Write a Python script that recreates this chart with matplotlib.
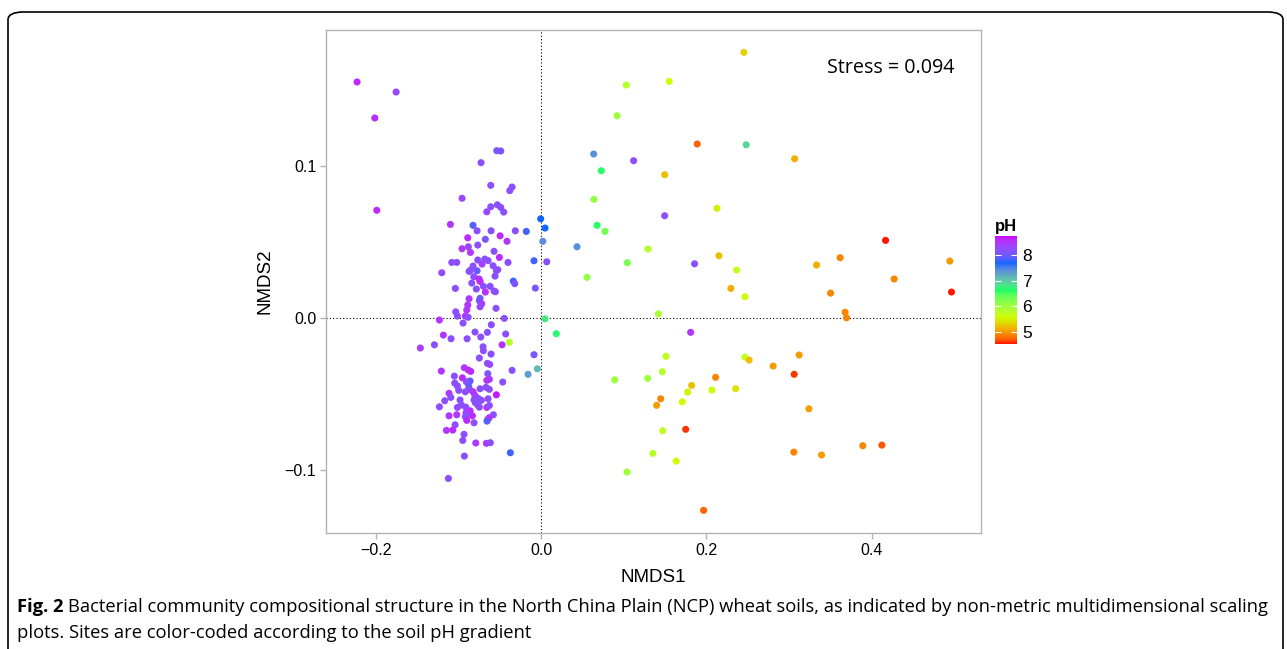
import numpy as np
import matplotlib
matplotlib.use("Agg")
import matplotlib.pyplot as plt
from matplotlib.colors import ListedColormap
from matplotlib.patches import FancyBboxPatch

# --- NMDS site scores (NMDS1, NMDS2, soil pH)
nmds1 = [
    -0.2224, -0.1752, -0.2010, -0.1986, -0.1096, -0.0535, -0.0487, -0.0725, -0.0608, -0.0350,
    -0.0378, -0.0955, -0.0528, -0.0608, -0.0487, -0.0656, -0.0451, -0.0822, -0.0773, -0.0604,
    -0.0311, -0.0178, -0.0004, 0.0048, 0.0021, -0.0886, -0.0495, -0.0411, -0.0673, -0.0955,
    -0.0879, -0.0765, -0.0854, -0.0568, -0.0504, -0.0680, -0.0765, -0.0640, -0.0085, 0.0069,
    -0.1079, -0.1019, -0.0713, -0.0399, -0.0822, -0.0854, -0.0870, -0.0773, -0.0580, -0.0523,
    -0.0540, -0.1200, -0.0556, -0.0813, -0.0749, -0.0737, -0.0837, -0.0335, -0.0318, -0.0616,
    -0.0697, -0.1036, -0.0782, -0.0568, -0.0552, -0.0673, -0.0069, -0.0870, -0.0737, -0.0746,
    -0.0717, -0.0737, -0.0886, -0.0898, -0.0544, -0.1031, -0.1011, -0.0915, -0.0882, -0.1229,
    -0.0444, 0.0048, -0.0943, -0.0601, -0.0798, -0.0649, -0.0427, 0.0185, -0.1181, -0.0729,
    -0.1088, -0.0894, -0.0383, -0.0471, -0.1289, -0.1459, -0.0701, -0.0697, -0.0604, -0.0085,
    -0.0746, -0.0649, -0.0620, -0.0045, -0.0927, -0.0879, -0.0850, -0.0350, -0.1205, -0.0157,
    -0.0644, -0.1048, -0.0951, -0.0858, -0.0903, -0.0625, -0.0656, -0.0463, -0.1043, -0.1011,
    -0.0995, -0.0874, -0.0866, -0.0737, -0.0665, -0.0625, -0.0915, -0.0822, -0.0801, -0.0540,
    -0.1112, -0.1091, -0.0640, -0.1164, -0.0979, -0.0810, -0.0761, -0.0721, -0.0794, -0.0765,
    -0.0746, -0.1229, -0.1011, -0.0963, -0.0910, -0.0656, -0.0625, -0.0858, -0.0906, -0.1112,
    -0.1019, -0.0830, -0.0898, -0.0915, -0.0576, -0.0628, -0.0644, -0.0898, -0.0653, -0.0810,
    -0.1039, -0.1144, -0.1067, -0.0931, -0.0946, -0.0789, -0.0661, -0.0613, -0.0371, -0.0927,
    -0.1120,
    0.2453, 0.1031, 0.1550, 0.0918, 0.1889, 0.2481, 0.3066, 0.0637, 0.1120, 0.0729,
    0.1495, 0.0640, 0.2127, 0.1495, 0.0677, 0.0773, 0.0435, 0.1293, 0.2151, 0.1043,
    0.1857, 0.2365, 0.0556, 0.2296, 0.2465, 0.1418, 0.1809, 0.1511, 0.2465, 0.2517,
    0.3121, 0.2807, 0.3061, 0.1466, 0.0891, 0.1289, 0.2111, 0.1821, 0.1773, 0.2066,
    0.2353, 0.1447, 0.1398, 0.1708, 0.3239, 0.1471, 0.1749, 0.3057, 0.3392, 0.1353,
    0.1635, 0.1039, 0.1966, 0.4166, 0.3617, 0.3332, 0.4943, 0.4270, 0.3501, 0.4963,
    0.3677, 0.3694, 0.3891, 0.4121,
]
nmds2 = [
    0.1553, 0.1487, 0.1316, 0.0709, 0.0616, 0.1101, 0.1099, 0.1022, 0.0873, 0.0862,
    0.0838, 0.0788, 0.0745, 0.0732, 0.0728, 0.0699, 0.0697, 0.0610, 0.0574, 0.0574,
    0.0574, 0.0570, 0.0653, 0.0592, 0.0505, 0.0528, 0.0541, 0.0505, 0.0518, 0.0456,
    0.0469, 0.0480, 0.0432, 0.0439, 0.0399, 0.0388, 0.0382, 0.0378, 0.0377, 0.0370,
    0.0366, 0.0366, 0.0355, 0.0366, 0.0342, 0.0314, 0.0307, 0.0311, 0.0344, 0.0318,
    0.0311, 0.0298, 0.0276, 0.0272, 0.0257, 0.0241, 0.0230, 0.0243, 0.0226, 0.0209,
    0.0209, 0.0195, 0.0191, 0.0178, 0.0173, 0.0171, 0.0197, 0.0127, 0.0130, 0.0114,
    0.0094, 0.0074, 0.0086, 0.0053, 0.0064, 0.0041, 0.0013, 0.0013, 0.0005, -0.0013,
    -0.0002, -0.0005, -0.0033, -0.0044, -0.0092, -0.0094, -0.0105, -0.0103, -0.0112, -0.0125,
    -0.0136, -0.0136, -0.0160, -0.0176, -0.0176, -0.0197, -0.0189, -0.0215, -0.0237, -0.0241,
    -0.0263, -0.0298, -0.0305, -0.0334, -0.0327, -0.0342, -0.0351, -0.0344, -0.0349, -0.0370,
    -0.0366, -0.0382, -0.0393, -0.0414, -0.0419, -0.0403, -0.0410, -0.0421, -0.0428, -0.0447,
    -0.0476, -0.0449, -0.0469, -0.0465, -0.0456, -0.0469, -0.0485, -0.0485, -0.0507, -0.0505,
    -0.0495, -0.0522, -0.0531, -0.0544, -0.0539, -0.0538, -0.0528, -0.0541, -0.0557, -0.0572,
    -0.0586, -0.0584, -0.0588, -0.0572, -0.0586, -0.0588, -0.0575, -0.0610, -0.0623, -0.0643,
    -0.0636, -0.0643, -0.0638, -0.0649, -0.0636, -0.0656, -0.0666, -0.0673, -0.0678, -0.0689,
    -0.0702, -0.0739, -0.0737, -0.0765, -0.0805, -0.0822, -0.0824, -0.0820, -0.0886, -0.0908,
    -0.1055,
    0.1748, 0.1533, 0.1557, 0.1331, 0.1145, 0.1140, 0.1048, 0.1079, 0.1035, 0.0969,
    0.0943, 0.0781, 0.0722, 0.0673, 0.0610, 0.0570, 0.0469, 0.0454, 0.0410, 0.0364,
    0.0357, 0.0316, 0.0268, 0.0195, 0.0140, 0.0028, -0.0094, -0.0252, -0.0257, -0.0276,
    -0.0243, -0.0316, -0.0370, -0.0353, -0.0406, -0.0397, -0.0390, -0.0443, -0.0487, -0.0474,
    -0.0465, -0.0531, -0.0574, -0.0551, -0.0597, -0.0741, -0.0732, -0.0882, -0.0901, -0.0890,
    -0.0941, -0.1013, -0.1265, 0.0511, 0.0397, 0.0349, 0.0375, 0.0257, 0.0164, 0.0171,
    0.0038, 0.0002, -0.0840, -0.0836,
]
ph = [
    8.6, 8.3, 8.6, 8.6, 8.5, 8.1, 8.1, 8.2, 8.2, 8.2,
    8.2, 8.3, 8.2, 8.2, 8.2, 8.3, 8.2, 7.9, 8.2, 8.2,
    8.2, 7.8, 7.7, 7.7, 7.4, 8.6, 8.6, 8.5, 8.1, 8.5,
    8.3, 8.2, 8.5, 8.2, 8.6, 8.2, 8.2, 8.2, 7.8, 8.2,
    8.2, 8.2, 8.4, 8.2, 8.2, 8.2, 8.2, 8.0, 8.2, 8.2,
    8.2, 8.3, 8.2, 8.2, 8.6, 8.6, 8.2, 7.8, 8.1, 8.2,
    8.2, 8.2, 8.2, 8.2, 8.2, 8.5, 8.1, 8.5, 8.0, 8.0,
    8.5, 8.3, 8.5, 8.5, 8.2, 8.2, 8.2, 8.5, 8.2, 8.5,
    8.2, 6.8, 8.2, 8.2, 8.2, 8.2, 8.2, 6.7, 8.5, 8.2,
    8.2, 8.2, 5.8, 8.5, 8.2, 8.4, 8.2, 8.2, 8.2, 8.1,
    8.2, 8.2, 8.3, 7.1, 8.5, 8.6, 8.6, 8.2, 8.5, 7.3,
    8.1, 8.2, 8.6, 7.9, 8.2, 8.5, 8.5, 8.2, 8.2, 8.2,
    8.2, 8.0, 8.1, 8.2, 8.2, 8.2, 8.2, 8.5, 8.5, 8.7,
    8.5, 8.2, 8.2, 8.2, 8.2, 8.2, 8.2, 8.2, 8.2, 8.2,
    8.2, 8.2, 8.3, 8.2, 8.2, 8.5, 8.2, 8.6, 8.5, 8.5,
    8.5, 8.6, 8.2, 8.2, 8.2, 8.5, 8.5, 8.6, 7.9, 8.2,
    8.2, 8.5, 8.6, 8.2, 8.2, 8.5, 8.5, 8.2, 7.8, 8.2,
    8.2,
    5.3, 5.8, 5.6, 6.0, 4.75, 6.9, 5.1, 7.4, 8.2, 6.6,
    5.2, 6.1, 5.5, 8.2, 6.6, 6.3, 7.4, 5.8, 5.2, 6.3,
    8.2, 5.7, 6.1, 5.1, 5.6, 5.9, 8.5, 5.7, 5.7, 5.2,
    5.0, 5.0, 4.6, 5.8, 6.0, 6.0, 4.9, 5.2, 5.5, 5.6,
    5.4, 4.9, 5.0, 5.6, 5.0, 5.7, 4.6, 4.9, 5.0, 5.8,
    5.6, 6.0, 4.75, 4.55, 4.9, 5.1, 5.0, 4.9, 4.9, 4.55,
    4.9, 4.9, 4.9, 4.7,
]
ph_ticks = [5, 6, 7, 8]
x_ticks = [-0.2, 0.0, 0.2, 0.4]
y_ticks = [-0.1, 0.0, 0.1]
stress = 0.094


# --- rainbow(5) gradient, interpolated in CIELAB like ggplot2
def to_lab(rgb):
    c = np.where(rgb <= 0.04045, rgb / 12.92, ((rgb + 0.055) / 1.055) ** 2.4)
    m = np.array([[0.4124, 0.3576, 0.1805], [0.2126, 0.7152, 0.0722], [0.0193, 0.1192, 0.9505]])
    xyz = c @ m.T / np.array([0.95047, 1.0, 1.08883])
    f = np.where(xyz > 0.008856, np.cbrt(xyz), 7.787 * xyz + 16 / 116)
    return np.stack([116 * f[:, 1] - 16, 500 * (f[:, 0] - f[:, 1]), 200 * (f[:, 1] - f[:, 2])], axis=1)


def from_lab(lab):
    fy = (lab[:, 0] + 16) / 116
    f = np.stack([fy + lab[:, 1] / 500, fy, fy - lab[:, 2] / 200], axis=1)
    xyz = np.where(f ** 3 > 0.008856, f ** 3, (f - 16 / 116) / 7.787) * np.array([0.95047, 1.0, 1.08883])
    m = np.array([[3.2406, -1.5372, -0.4986], [-0.9689, 1.8758, 0.0415], [0.0557, -0.2040, 1.0570]])
    c = np.clip(xyz @ m.T, 0, 1)
    return np.clip(np.where(c <= 0.0031308, 12.92 * c, 1.055 * c ** (1 / 2.4) - 0.055), 0, 1)


stops = np.array([[1, 0, 0], [0.8, 1, 0], [0, 1, 0.4], [0, 0.4, 1], [0.8, 0, 1]])
lab = to_lab(stops)
t = np.linspace(0, 1, 256)
pos = np.linspace(0, 1, len(stops))
lab_i = np.stack([np.interp(t, pos, lab[:, k]) for k in range(3)], axis=1)
cmap = ListedColormap(from_lab(lab_i))

fig = plt.figure(figsize=(12.87, 6.49), dpi=100)
W, H = 1287, 649

# rounded frame around the whole figure panel
fig.patches.append(FancyBboxPatch((8 / W, -0.05), (1275 / W), 1 - 12 / H + 0.05,
                                  boxstyle="round,pad=0,rounding_size=0.012",
                                  transform=fig.transFigure, fill=False,
                                  edgecolor="black", linewidth=1.2))

ax = fig.add_axes([326 / W, 1 - 533 / H, 655 / W, 503 / H])
sc = ax.scatter(nmds1, nmds2, c=ph, cmap=cmap, vmin=4.52, vmax=8.75, s=26,
                linewidths=0, zorder=3)
ax.axvline(0, color="black", linestyle=(0, (1, 2)), linewidth=0.8, zorder=1)
ax.axhline(0, color="black", linestyle=(0, (1, 2)), linewidth=0.8, zorder=1)
ax.set_xlim(-0.26, 0.532)
ax.set_ylim(-0.1414, 0.1895)
ax.set_xticks(x_ticks)
ax.set_yticks(y_ticks)
ax.set_xticklabels([f"{v:.1f}".replace("-", "\u2212") for v in x_ticks])
ax.set_yticklabels([f"{v:.1f}".replace("-", "\u2212") for v in y_ticks])
for sp in ax.spines.values():
    sp.set_color("#b3b3b3")
    sp.set_linewidth(1.0)
ax.tick_params(color="#b3b3b3", length=4, width=1, labelsize=11.5, labelcolor="black", pad=3)
for lb in ax.get_xticklabels() + ax.get_yticklabels():
    lb.set_fontfamily("Liberation Sans")
ax.set_xlabel("NMDS1", fontsize=13.5, fontfamily="Liberation Sans", labelpad=8)
ax.set_ylabel("NMDS2", fontsize=13.5, fontfamily="Liberation Sans", labelpad=8)
ax.text((954 - 326) / 655, 0.925, f"Stress = {stress}", transform=ax.transAxes,
        ha="right", va="center", fontsize=14.2, fontfamily="Open Sans")

# colour bar
cax = fig.add_axes([995 / W, 1 - 344 / H, 22 / W, 108 / H])
cb = fig.colorbar(sc, cax=cax, ticks=ph_ticks)
cb.outline.set_visible(False)
cax.tick_params(left=True, right=True, direction="in", color="white", length=4, width=0.8,
                labelsize=12.5, pad=4)
for lb in cax.get_yticklabels():
    lb.set_fontfamily("Liberation Sans")
fig.text(995 / W, 1 - 226 / H, "pH", fontsize=12, fontweight="bold",
         fontfamily="Liberation Sans", ha="left", va="center")

# caption
fig.canvas.draw()
r = fig.canvas.get_renderer()
cap_font = "Open Sans"
cap_size = 13.2
t1 = fig.text(17 / W, 1 - 607 / H, "Fig. 2", fontsize=cap_size, fontweight="bold",
              fontfamily=cap_font, va="center", ha="left")
bb = t1.get_window_extent(r)
fig.text((bb.x1 + 5) / W, 1 - 607 / H,
         "Bacterial community compositional structure in the North China Plain (NCP) wheat soils, "
         "as indicated by non-metric multidimensional scaling",
         fontsize=cap_size, fontfamily=cap_font, va="center", ha="left")
fig.text(17 / W, 1 - 633 / H, "plots. Sites are color-coded according to the soil pH gradient",
         fontsize=cap_size, fontfamily=cap_font, va="center", ha="left")

fig.savefig("out.png", dpi=100)
